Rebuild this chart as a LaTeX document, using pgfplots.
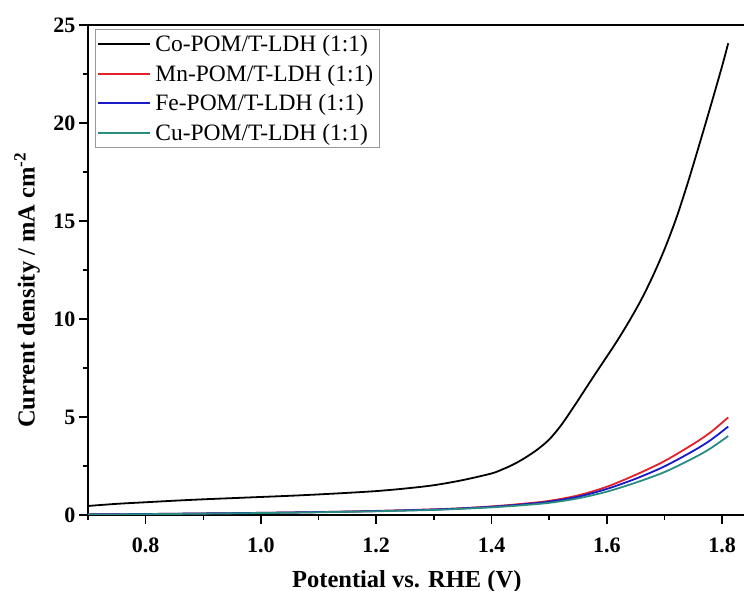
\documentclass[border=0pt]{standalone}
\usepackage{fontspec}
\setmainfont{Liberation Serif}
\usepackage{pgfplots}
\pgfplotsset{compat=1.18}
\definecolor{cred}{RGB}{228,32,40}
\definecolor{cblue}{RGB}{25,25,200}
\definecolor{cteal}{RGB}{40,140,128}
\begin{document}
\begin{tikzpicture}
\begin{axis}[
  scale only axis,
  width=656pt, height=490pt,
  xmin=0.7, xmax=1.838, ymin=0, ymax=25,
  axis x line*=box, axis y line*=left,
  axis line style={-, line width=1.6pt},
  xtick pos=bottom, ytick pos=left,
  xtick={0.8,1.0,1.2,1.4,1.6,1.8},
  minor xtick={0.7,0.9,1.1,1.3,1.5,1.7},
  ytick={0,5,10,15,20,25},
  minor ytick={2.5,7.5,12.5,17.5,22.5},
  tick align=outside,
  major tick length=9pt, minor tick length=5pt,
  every tick/.style={line width=1.5pt, black},
  /pgf/number format/assume math mode=true,
  xticklabel style={font=\fontsize{22}{26}\selectfont\bfseries, anchor=base, yshift=-28pt,
    /pgf/number format/.cd, fixed, fixed zerofill, precision=1},
  yticklabel style={font=\fontsize{22}{26}\selectfont\bfseries,
    /pgf/number format/.cd, fixed, precision=0},
  xlabel={Potential vs. RHE (V)},
  ylabel={Current density / mA cm\textsuperscript{-2}},
  every axis x label/.style={at={(rel axis cs:0.486,0)}, anchor=base, yshift=-72pt,
    font=\fontsize{24.5}{28}\selectfont\bfseries},
  every axis y label/.style={at={(rel axis cs:0,0.459)}, xshift=-61pt, anchor=center, rotate=90,
    font=\fontsize{24.5}{28}\selectfont\bfseries},
  legend style={at={(rel axis cs:0.0107,0.9918)}, anchor=north west,
    draw=gray!80, line width=0.7pt, font=\fontsize{23.5}{27}\selectfont,
    inner xsep=2pt, inner ysep=0pt, row sep=0pt,
    nodes={inner xsep=4pt, inner ysep=5.9pt}},
  legend cell align=left,
  legend image code/.code={\draw[#1, line width=2pt] (0pt,0pt) -- (52pt,0pt);},
]
\coordinate (O) at (rel axis cs:0,0);
\addplot[black, line width=1.8pt, smooth] coordinates {
(0.70,0.46) (0.75,0.57) (0.80,0.65) (0.85,0.73) (0.90,0.80) (0.95,0.86)
(1.00,0.92) (1.05,0.98) (1.10,1.05) (1.15,1.13) (1.20,1.22) (1.25,1.35)
(1.30,1.52) (1.35,1.78) (1.40,2.12) (1.42,2.34) (1.44,2.61) (1.46,2.95)
(1.48,3.35) (1.50,3.85) (1.52,4.55) (1.54,5.40) (1.56,6.30) (1.58,7.20)
(1.60,8.08) (1.62,8.98) (1.64,9.95) (1.66,11.0) (1.68,12.2) (1.70,13.55)
(1.72,15.1) (1.74,16.9) (1.76,18.85) (1.78,20.85) (1.80,22.9) (1.8106,24.07)
};
\addlegendentry{Co-POM/T-LDH (1:1)}
\addplot[cred, line width=1.8pt, smooth] coordinates {
(0.70,0.03) (0.80,0.05) (0.90,0.08) (1.00,0.11) (1.10,0.15) (1.20,0.21)
(1.30,0.29) (1.35,0.35) (1.40,0.44) (1.45,0.56) (1.50,0.72) (1.55,1.00)
(1.60,1.44) (1.65,2.05) (1.70,2.75) (1.75,3.62) (1.78,4.22) (1.8106,4.98)
};
\addlegendentry{Mn-POM/T-LDH (1:1)}
\addplot[cblue, line width=1.8pt, smooth] coordinates {
(0.70,0.03) (0.80,0.05) (0.90,0.08) (1.00,0.11) (1.10,0.15) (1.20,0.20)
(1.30,0.28) (1.35,0.34) (1.40,0.42) (1.45,0.53) (1.50,0.68) (1.55,0.93)
(1.60,1.33) (1.65,1.85) (1.70,2.48) (1.75,3.27) (1.78,3.82) (1.8106,4.51)
};
\addlegendentry{Fe-POM/T-LDH (1:1)}
\addplot[cteal, line width=1.8pt, smooth] coordinates {
(0.70,0.02) (0.80,0.04) (0.90,0.07) (1.00,0.10) (1.10,0.14) (1.20,0.19)
(1.30,0.26) (1.35,0.32) (1.40,0.39) (1.45,0.49) (1.50,0.62) (1.55,0.85)
(1.60,1.19) (1.65,1.65) (1.70,2.19) (1.75,2.90) (1.78,3.40) (1.8106,4.03)
};
\addlegendentry{Cu-POM/T-LDH (1:1)}
\end{axis}
\pgfresetboundingbox
\path[use as bounding box] (O) ++(-88pt,-76pt) rectangle ++(744pt,591pt);
\end{tikzpicture}
\end{document}
